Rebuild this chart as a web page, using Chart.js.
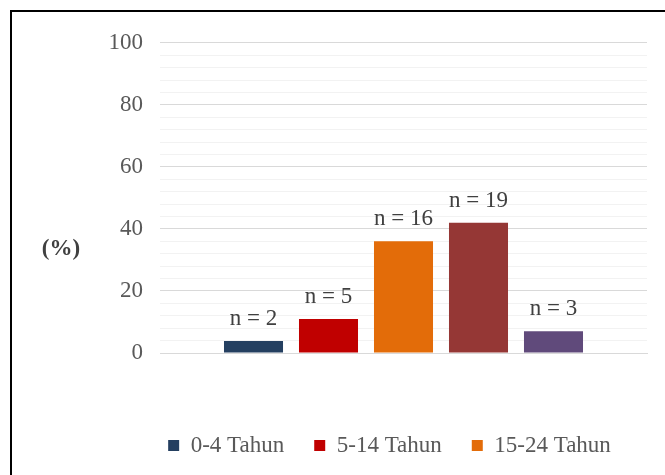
<!DOCTYPE html>
<html lang="id">
<head>
    <meta charset="UTF-8">
    <title>Distribusi Umur</title>
    <style>
        html, body {
            margin: 0;
            padding: 0;
            background: #fff;
            overflow: hidden;
            width: 665px;
            height: 475px;
        }
        .frame {
            position: absolute;
            left: 10px;
            top: 10px;
            width: 754px;
            height: 500px;
            border: 2px solid #000;
        }
        #chart {
            display: block;
        }
    </style>
    <script src="https://cdn.jsdelivr.net/npm/chart.js"></script>
</head>
<body>
<div class="frame">
    <canvas id="chart" width="754" height="500"></canvas>
</div>
<script>
    // data
    const groups = ['0-4 Tahun', '5-14 Tahun', '15-24 Tahun', '', ''];
    const percent = [3.9, 11, 36, 42, 7];
    const counts = ['n = 2', 'n = 5', 'n = 16', 'n = 19', 'n = 3'];
    const colors = ['#243F60', '#C00000', '#E36C09', '#953735', '#604A7B'];
    const shownInLegend = 3;

    const FONT = '"Liberation Serif", "Times New Roman", serif';

    // labels "n = .." above each bar
    const countLabels = {
        id: 'countLabels',
        afterDatasetsDraw(chart) {
            const ctx = chart.ctx;
            ctx.save();
            ctx.font = '23px ' + FONT;
            ctx.fillStyle = '#404040';
            ctx.textAlign = 'center';
            ctx.textBaseline = 'alphabetic';
            chart.data.datasets.forEach((ds, i) => {
                const bar = chart.getDatasetMeta(i).data[0];
                ctx.fillText(counts[i], bar.x, bar.y - 16);
            });
            ctx.restore();
        }
    };

    // horizontal "(%)" axis title
    const axisTitle = {
        id: 'axisTitle',
        afterDraw(chart) {
            const ctx = chart.ctx;
            const y = chart.scales.y;
            ctx.save();
            ctx.font = 'bold 23px ' + FONT;
            ctx.fillStyle = '#404040';
            ctx.textAlign = 'center';
            ctx.textBaseline = 'middle';
            ctx.fillText('(%)', 49, y.top + (y.bottom - y.top) * 0.665);
            ctx.restore();
        }
    };

    // the legend sits right of the canvas centre in the original
    const legendShift = {
        id: 'legendShift',
        afterLayout(chart) {
            chart.legend.left += 60;
            chart.legend.right += 60;
        }
    };

    new Chart(document.getElementById('chart'), {
        type: 'bar',
        data: {
            labels: [''],
            datasets: percent.map((v, i) => ({
                label: groups[i],
                data: [v],
                backgroundColor: colors[i],
                barPercentage: 0.787,
                categoryPercentage: 0.77
            }))
        },
        options: {
            responsive: false,
            animation: false,
            layout: {
                padding: { top: 28, right: 119, bottom: 45, left: 0 }
            },
            scales: {
                x: {
                    ticks: { display: false },
                    grid: { display: false },
                    border: { color: '#d9d9d9', width: 1 },
                    afterFit: s => { s.height = 51; }
                },
                y: {
                    min: 0,
                    max: 100,
                    ticks: {
                        stepSize: 4,
                        autoSkip: false,
                        padding: 17,
                        color: '#595959',
                        font: { family: FONT, size: 23 },
                        callback: v => (v % 20 === 0 ? v : '')
                    },
                    grid: {
                        drawTicks: false,
                        lineWidth: 1,
                        color: c => (c.tick && c.tick.value % 20 === 0 ? '#d9d9d9' : '#f2f2f2')
                    },
                    border: { display: false },
                    afterFit: s => { s.width = 148; }
                }
            },
            plugins: {
                legend: {
                    position: 'bottom',
                    labels: {
                        boxWidth: 11,
                        boxHeight: 11,
                        padding: 30,
                        color: '#595959',
                        font: { family: FONT, size: 23 },
                        filter: item => item.datasetIndex < shownInLegend
                    }
                },
                tooltip: { enabled: false }
            }
        },
        plugins: [countLabels, axisTitle, legendShift]
    });
</script>
</body>
</html>
